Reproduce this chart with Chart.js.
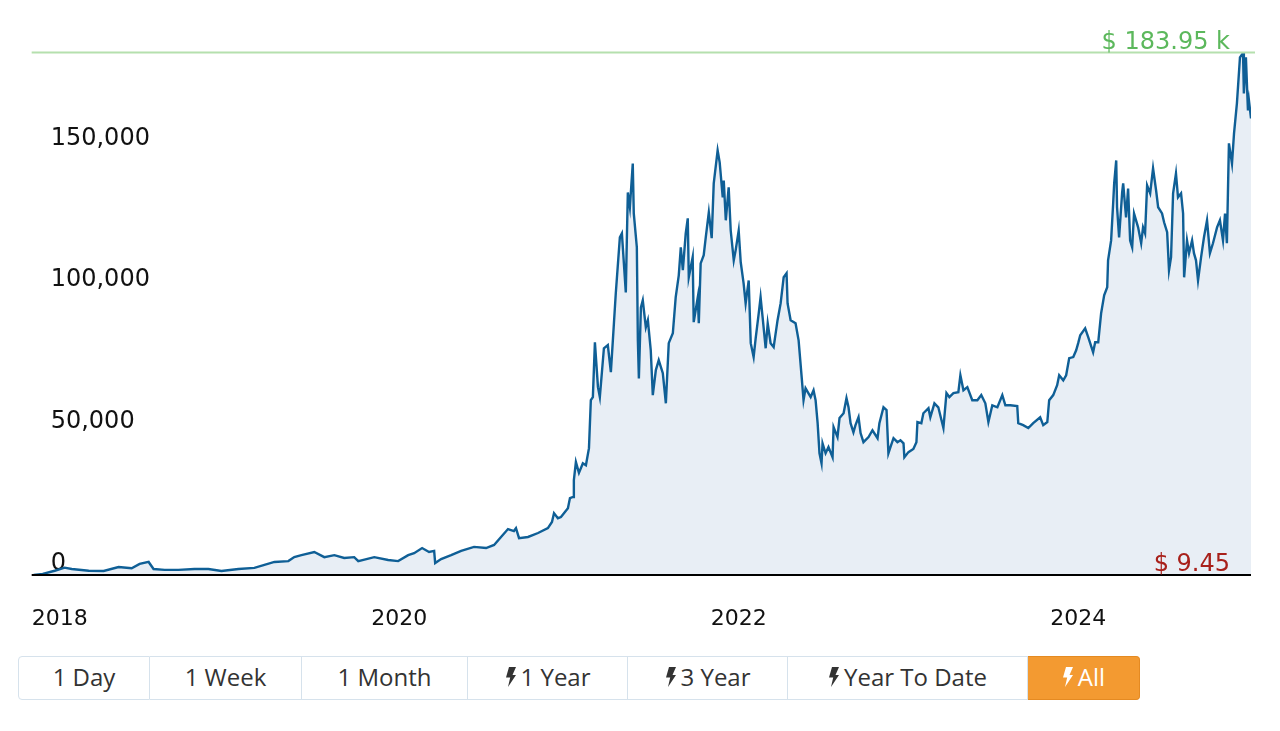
<!DOCTYPE html>
<html>
<head>
<meta charset="utf-8">
<script src="https://cdn.jsdelivr.net/npm/chart.js@4.4.1/dist/chart.umd.min.js"></script>
<style>
html,body{margin:0;padding:0;background:#fff;}
#wrap{position:absolute;left:0;top:0;width:1280px;height:640px;}
.btns{position:absolute;left:18px;top:656px;height:44px;display:flex;font-family:"Open Sans",sans-serif;font-size:24px;color:#333;}
.btns div{box-sizing:border-box;height:44px;padding-bottom:3px;border:1px solid #d6e2ec;border-left:none;display:flex;align-items:center;justify-content:center;gap:4px;background:#fff;}
.btns div:first-child{border-left:1px solid #d6e2ec;border-radius:4px 0 0 4px;}
.btns div.on{background:#f39a31;border-color:#e48a22;color:#fff;border-radius:0 4px 4px 0;}
.btns svg{width:12px;height:20px;fill:currentColor;}
</style>
</head>
<body>
<div id="wrap"><canvas id="chart" width="1280" height="640"></canvas></div>
<div class="btns" id="btns"></div>
<script>
// price history (decimal year, price)
const dates = [
 2017.847,2017.900,2017.971,2018.029,2018.071,2018.171,2018.259,2018.347,2018.424,2018.471,
 2018.524,2018.553,2018.618,2018.700,2018.794,2018.876,2018.953,2019.053,2019.147,2019.265,
 2019.347,2019.382,2019.424,2019.500,2019.559,2019.618,2019.676,2019.735,2019.759,2019.853,
 2019.935,2019.994,2020.053,2020.088,2020.135,2020.176,2020.206,2020.212,2020.247,2020.306,
 2020.365,2020.441,2020.512,2020.559,2020.600,2020.641,2020.676,2020.688,2020.706,2020.759,
 2020.818,2020.876,2020.900,2020.912,2020.935,2020.953,2020.994,2021.006,2021.024,2021.029,
 2021.041,2021.059,2021.082,2021.100,2021.118,2021.129,2021.141,2021.153,2021.171,2021.182,
 2021.206,2021.229,2021.247,2021.265,2021.276,2021.300,2021.312,2021.335,2021.341,2021.347,
 2021.359,2021.376,2021.382,2021.400,2021.406,2021.412,2021.424,2021.435,2021.453,2021.465,
 2021.482,2021.494,2021.512,2021.529,2021.553,2021.571,2021.588,2021.612,2021.629,2021.647,
 2021.659,2021.671,2021.688,2021.700,2021.706,2021.729,2021.735,2021.759,2021.765,2021.776,
 2021.794,2021.806,2021.824,2021.841,2021.853,2021.876,2021.888,2021.906,2021.912,2021.924,
 2021.941,2021.953,2021.971,2021.982,2022.000,2022.012,2022.029,2022.041,2022.059,2022.071,
 2022.088,2022.100,2022.118,2022.129,2022.141,2022.159,2022.171,2022.188,2022.206,2022.229,
 2022.247,2022.265,2022.282,2022.288,2022.306,2022.335,2022.353,2022.371,2022.382,2022.394,
 2022.424,2022.441,2022.453,2022.465,2022.476,2022.488,2022.494,2022.512,2022.529,2022.553,
 2022.559,2022.582,2022.594,2022.618,2022.635,2022.647,2022.659,2022.676,2022.688,2022.706,
 2022.718,2022.735,2022.765,2022.788,2022.818,2022.829,2022.853,2022.871,2022.882,2022.894,
 2022.912,2022.935,2022.953,2022.971,2022.976,2023.000,2023.029,2023.047,2023.053,2023.076,
 2023.088,2023.118,2023.129,2023.153,2023.176,2023.206,2023.224,2023.241,2023.265,2023.294,
 2023.306,2023.324,2023.347,2023.376,2023.406,2023.429,2023.453,2023.471,2023.494,2023.524,
 2023.553,2023.571,2023.600,2023.641,2023.647,2023.676,2023.706,2023.735,2023.776,2023.794,
 2023.818,2023.829,2023.853,2023.876,2023.888,2023.912,2023.929,2023.947,2023.971,2023.988,
 2024.000,2024.012,2024.041,2024.059,2024.088,2024.100,2024.118,2024.135,2024.153,2024.171,
 2024.176,2024.194,2024.206,2024.212,2024.224,2024.229,2024.241,2024.259,2024.265,2024.282,
 2024.294,2024.306,2024.318,2024.329,2024.353,2024.371,2024.382,2024.394,2024.406,2024.424,
 2024.441,2024.459,2024.471,2024.494,2024.506,2024.524,2024.535,2024.547,2024.559,2024.576,
 2024.588,2024.606,2024.618,2024.624,2024.641,2024.653,2024.671,2024.682,2024.694,2024.706,
 2024.724,2024.741,2024.759,2024.776,2024.794,2024.818,2024.835,2024.853,2024.865,2024.876,
 2024.882,2024.888,2024.906,2024.918,2024.935,2024.953,2024.971,2024.976,2024.988,2025.000,
 2025.006,2025.018
];
const prices = [
 9.45,400,1500,2600,2100,1500,1400,2800,2400,3900,
 4600,2100,1800,1800,2100,2100,1400,2100,2500,4600,
 4900,6300,7000,8100,6300,7000,6000,6300,4900,6300,
 5300,4900,7000,7700,9500,8100,8500,4200,5600,7000,
 8500,9900,9500,10600,13400,16200,15500,16500,13000,13400,
 14800,16500,18700,21800,20000,20400,23500,27100,27500,33400,
 39800,36000,39400,38700,44700,61600,62700,82000,66200,62700,
 79900,81000,71500,88700,99300,119000,120400,99600,117900,134800,
 129600,145000,127400,115500,82700,69300,94300,96800,87300,89800,
 79200,63400,72200,75700,71100,60500,81700,85200,97900,105600,
 115500,107400,120400,125700,104900,112000,89100,97900,88700,109800,
 112700,119000,127800,118700,138000,149600,145400,133100,139000,125000,
 136600,121400,110900,114400,121400,110200,102800,95700,103800,81700,
 76800,83400,92200,97900,90800,79900,88700,81700,80300,89800,
 95700,104900,106300,95700,89800,88700,82700,69700,61600,65800,
 62700,65100,61600,53500,42900,39400,46400,42900,45100,41500,
 52100,48600,55300,57000,62300,59100,53500,50300,52800,55600,
 50000,46800,48600,51000,48200,53500,59100,58100,42900,45100,
 48200,46800,47500,46400,41500,43300,44400,46800,53900,53500,
 57000,58800,55600,60500,59100,51800,64100,62700,64100,64400,
 70400,65100,66200,61600,61600,63400,60500,53900,59800,59100,
 63400,59800,59800,59500,53500,52800,51800,53500,55600,52800,
 53900,61600,63400,66900,70400,68600,70400,76400,76800,79200,
 81700,84500,86900,83800,78500,82000,82000,92200,98600,101400,
 110900,117900,131000,138000,146100,129600,119000,134800,138000,126000,
 136200,117900,115500,127400,122500,116900,122500,120400,137300,134500,
 143300,135500,129600,127400,124300,120800,107400,112000,134500,141500,
 133100,134500,127400,104900,117900,113400,117900,113400,110900,103800,
 112000,119000,125000,113400,116900,122500,125000,117900,127400,116900,
 134500,152100,145000,155600,166200,182400,183950,169700,182400,163700,
 167200,160900
];
const xTicks = [2018, 2020, 2022, 2024];
const yTicks = [0, 50000, 100000, 150000];
const maxPrice = 183950;
const minPrice = 9.45;
const maxLabel = '$ 183.95 k';
const minLabel = '$ 9.45';
const ranges = ['1 Day','1 Week','1 Month','1 Year','3 Year','Year To Date','All'];
const bolted = [false,false,false,true,true,true,true];

const btnW = [132,152,166,160,160,240,112];
const bolt = '<svg viewBox="0 0 12 20"><path d="M4 0h7L7.5 8H11L3 20l2.2-9.5H1z"/></svg>';
const box = document.getElementById('btns');
ranges.forEach((r,i)=>{
  const d = document.createElement('div');
  d.style.width = btnW[i]+'px';
  if(i===ranges.length-1) d.className='on';
  d.innerHTML = (bolted[i]?bolt:'') + '<span>'+r+'</span>';
  box.appendChild(d);
});

const markers = {
  id:'markers',
  afterDatasetsDraw(c){
    const {ctx, chartArea:a, scales:{y}} = c;
    const yMax = Math.round(y.getPixelForValue(maxPrice))+0.5;
    const y0 = y.getPixelForValue(0);
    ctx.save();
    ctx.strokeStyle='#b5e0ae'; ctx.lineWidth=2;
    ctx.beginPath(); ctx.moveTo(a.left,yMax-1); ctx.lineTo(a.right+4,yMax-1); ctx.stroke();
    ctx.strokeStyle='#000'; ctx.lineWidth=2;
    ctx.beginPath(); ctx.moveTo(a.left,y0); ctx.lineTo(a.right,y0); ctx.stroke();
    ctx.font='24px "DejaVu Sans"'; ctx.textAlign='right'; ctx.textBaseline='alphabetic';
    ctx.fillStyle='#5cb85c'; ctx.fillText(maxLabel, a.right-21, yMax-5);
    ctx.fillStyle='#a8201a'; ctx.fillText(minLabel, a.right-21, y0-4);
    ctx.restore();
  }
};

new Chart(document.getElementById('chart'), {
  type:'line',
  data:{
    datasets:[{
      data: dates.map((d,i)=>({x:d, y:prices[i]})),
      borderColor:'#0f5f96',
      backgroundColor:'#e8eef5',
      borderWidth:2.4,
      fill:'origin',
      pointRadius:0,
      tension:0
    }]
  },
  options:{
    responsive:false,
    animation:false,
    layout:{padding:{left:30,right:29,top:53,bottom:0}},
    plugins:{legend:{display:false},tooltip:{enabled:false}},
    scales:{
      x:{
        type:'linear',
        min:2017.835, max:2025.018,
        grid:{display:false,drawTicks:false},
        border:{display:false},
        afterBuildTicks:s=>{ s.ticks = xTicks.map(v=>({value:v})); },
        afterFit:s=>{ s.height = 65; },
        ticks:{autoSkip:false,maxRotation:0,padding:31,color:'#111',
          font:{family:'DejaVu Sans',size:22},callback:v=>String(v)}
      },
      y:{
        min:0, max:maxPrice,
        grid:{display:false,drawTicks:false},
        border:{display:false},
        afterBuildTicks:s=>{ s.ticks = yTicks.map(v=>({value:v})); },
        afterFit:s=>{ s.width = 0; },
        ticks:{mirror:true,padding:19,labelOffset:-11,color:'#111',
          font:{family:'DejaVu Sans',size:24},callback:v=>v.toLocaleString('en-US')}
      }
    }
  },
  plugins:[markers]
});
</script>
</body>
</html>
